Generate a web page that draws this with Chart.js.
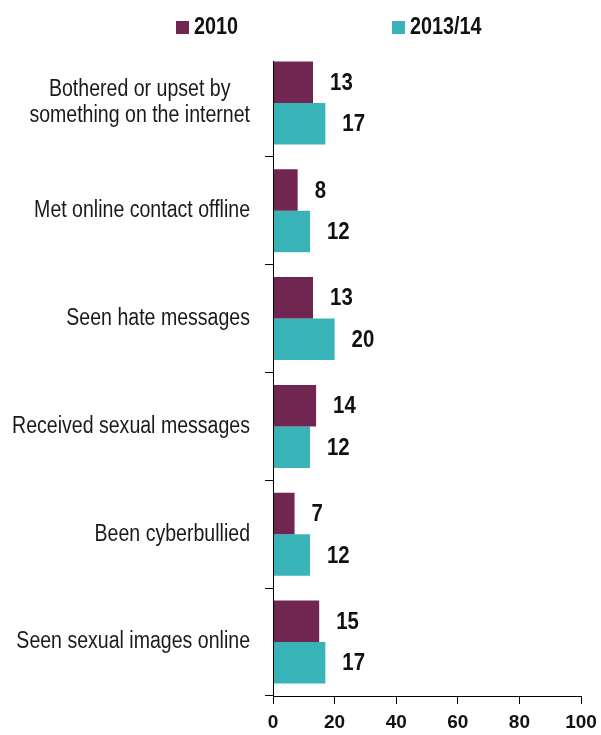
<!DOCTYPE html>
<html>
<head>
<meta charset="utf-8">
<script src="https://cdn.jsdelivr.net/npm/chart.js@4.4.1/dist/chart.umd.min.js"></script>
<style>
  html, body { margin: 0; padding: 0; background: #fff; }
  #wrap { width: 601px; height: 735px; }
</style>
</head>
<body>
<div id="wrap"><canvas id="riskChart" width="601" height="735"></canvas></div>
<script>
// categories and series values
const categories = [
    ['Bothered or upset by', 'something on the internet'],
    'Met online contact offline',
    'Seen hate messages',
    'Received sexual messages',
    'Been cyberbullied',
    'Seen sexual images online'
];
const seriesNames = ['2010', '2013/14'];
const values2010 = [13, 8, 13, 14, 7, 15];
const values2013 = [17, 12, 20, 12, 12, 17];
const xTickMin = 0;
const xTickMax = 100;
const xTickStep = 20;

const colors = ['#702651', '#38b4b8'];
const sans = "'Liberation Sans', Arial, sans-serif";
const squeeze = 0.85;

// no narrow face installed, so squeeze the regular one
function narrowText(ctx, text, x, y, align, sx) {
    ctx.save();
    ctx.translate(x, y);
    ctx.scale(sx || squeeze, 1);
    ctx.textAlign = align;
    ctx.fillText(text, 0, 0);
    ctx.restore();
}

// category names left of the axis, wrapped lines centred on each other
const categoryLabels = {
    id: 'categoryLabels',
    afterDraw(chart) {
        const ctx = chart.ctx;
        const yScale = chart.scales.y;
        const right = 250;
        const lineH = 26;
        ctx.save();
        ctx.font = '23px ' + sans;
        ctx.fillStyle = '#1a1a1a';
        ctx.textBaseline = 'middle';
        chart.data.labels.forEach((label, i) => {
            const lines = Array.isArray(label) ? label : [label];
            const y = yScale.getPixelForTick(i);
            const w = Math.max(...lines.map(l => ctx.measureText(l).width)) * squeeze;
            lines.forEach((line, k) => {
                const ly = y + (k - (lines.length - 1) / 2) * lineH;
                narrowText(ctx, line, right - w / 2, ly, 'center');
            });
        });
        ctx.restore();
    }
};

// vertical axis line, starting level with the first bar
const yAxisLine = {
    id: 'yAxisLine',
    afterDatasetsDraw(chart) {
        const ctx = chart.ctx;
        const area = chart.chartArea;
        const first = chart.getDatasetMeta(0).data[0];
        const top = Math.round(first.y - first.height / 2);
        const x = Math.round(area.left) + 0.5;
        ctx.save();
        ctx.strokeStyle = '#000';
        ctx.lineWidth = 1;
        ctx.beginPath();
        ctx.moveTo(x, top);
        ctx.lineTo(x, area.bottom);
        ctx.stroke();
        ctx.restore();
    }
};

// value labels next to each bar
const barLabels = {
    id: 'barLabels',
    afterDatasetsDraw(chart) {
        const ctx = chart.ctx;
        ctx.save();
        ctx.font = 'bold 24px ' + sans;
        ctx.fillStyle = '#111';
        ctx.textBaseline = 'middle';
        chart.data.datasets.forEach((ds, i) => {
            chart.getDatasetMeta(i).data.forEach((bar, j) => {
                narrowText(ctx, String(ds.data[j]), bar.x + 17, bar.y + 1, 'left');
            });
        });
        ctx.restore();
    }
};

// legend drawn along the top
const topLegend = {
    id: 'topLegend',
    afterDraw(chart) {
        const ctx = chart.ctx;
        ctx.save();
        ctx.font = 'bold 23px ' + sans;
        ctx.textBaseline = 'middle';
        const starts = [176, 392];
        chart.data.datasets.forEach((ds, i) => {
            const x = starts[i];
            ctx.fillStyle = ds.backgroundColor;
            ctx.fillRect(x, 21, 13, 13);
            ctx.fillStyle = '#111';
            narrowText(ctx, ds.label, x + 18, 28, 'left', 0.86);
        });
        ctx.restore();
    }
};

const ctx = document.getElementById('riskChart');

new Chart(ctx, {
    type: 'bar',
    data: {
        labels: categories,
        datasets: [{
            label: seriesNames[0],
            data: values2010,
            backgroundColor: colors[0],
            categoryPercentage: 0.77,
            barPercentage: 1
        }, {
            label: seriesNames[1],
            data: values2013,
            backgroundColor: colors[1],
            categoryPercentage: 0.77,
            barPercentage: 1
        }]
    },
    options: {
        indexAxis: 'y',
        responsive: false,
        animation: false,
        layout: {
            padding: { top: 49, right: 20, left: 0, bottom: 0 }
        },
        plugins: {
            legend: { display: false },
            tooltip: { enabled: false }
        },
        scales: {
            x: {
                min: xTickMin,
                max: xTickMax,
                afterFit(scale) {
                    scale.height = 39;
                    scale.paddingRight = 0;
                },
                border: { display: true, color: '#000', width: 1 },
                grid: {
                    drawOnChartArea: false,
                    drawTicks: true,
                    tickLength: 8,
                    color: '#000'
                },
                ticks: {
                    stepSize: xTickStep,
                    padding: 7,
                    color: '#111',
                    font: { family: sans, size: 19, weight: 'bold' }
                }
            },
            y: {
                afterFit(scale) { scale.width = 273; },
                border: { display: false },
                grid: {
                    offset: true,
                    drawOnChartArea: false,
                    drawTicks: true,
                    tickLength: 8,
                    color: c => c.index === 0 ? 'rgba(0,0,0,0)' : '#000'
                },
                ticks: { display: false }
            }
        }
    },
    plugins: [barLabels, yAxisLine, topLegend, categoryLabels]
});
</script>
</body>
</html>
